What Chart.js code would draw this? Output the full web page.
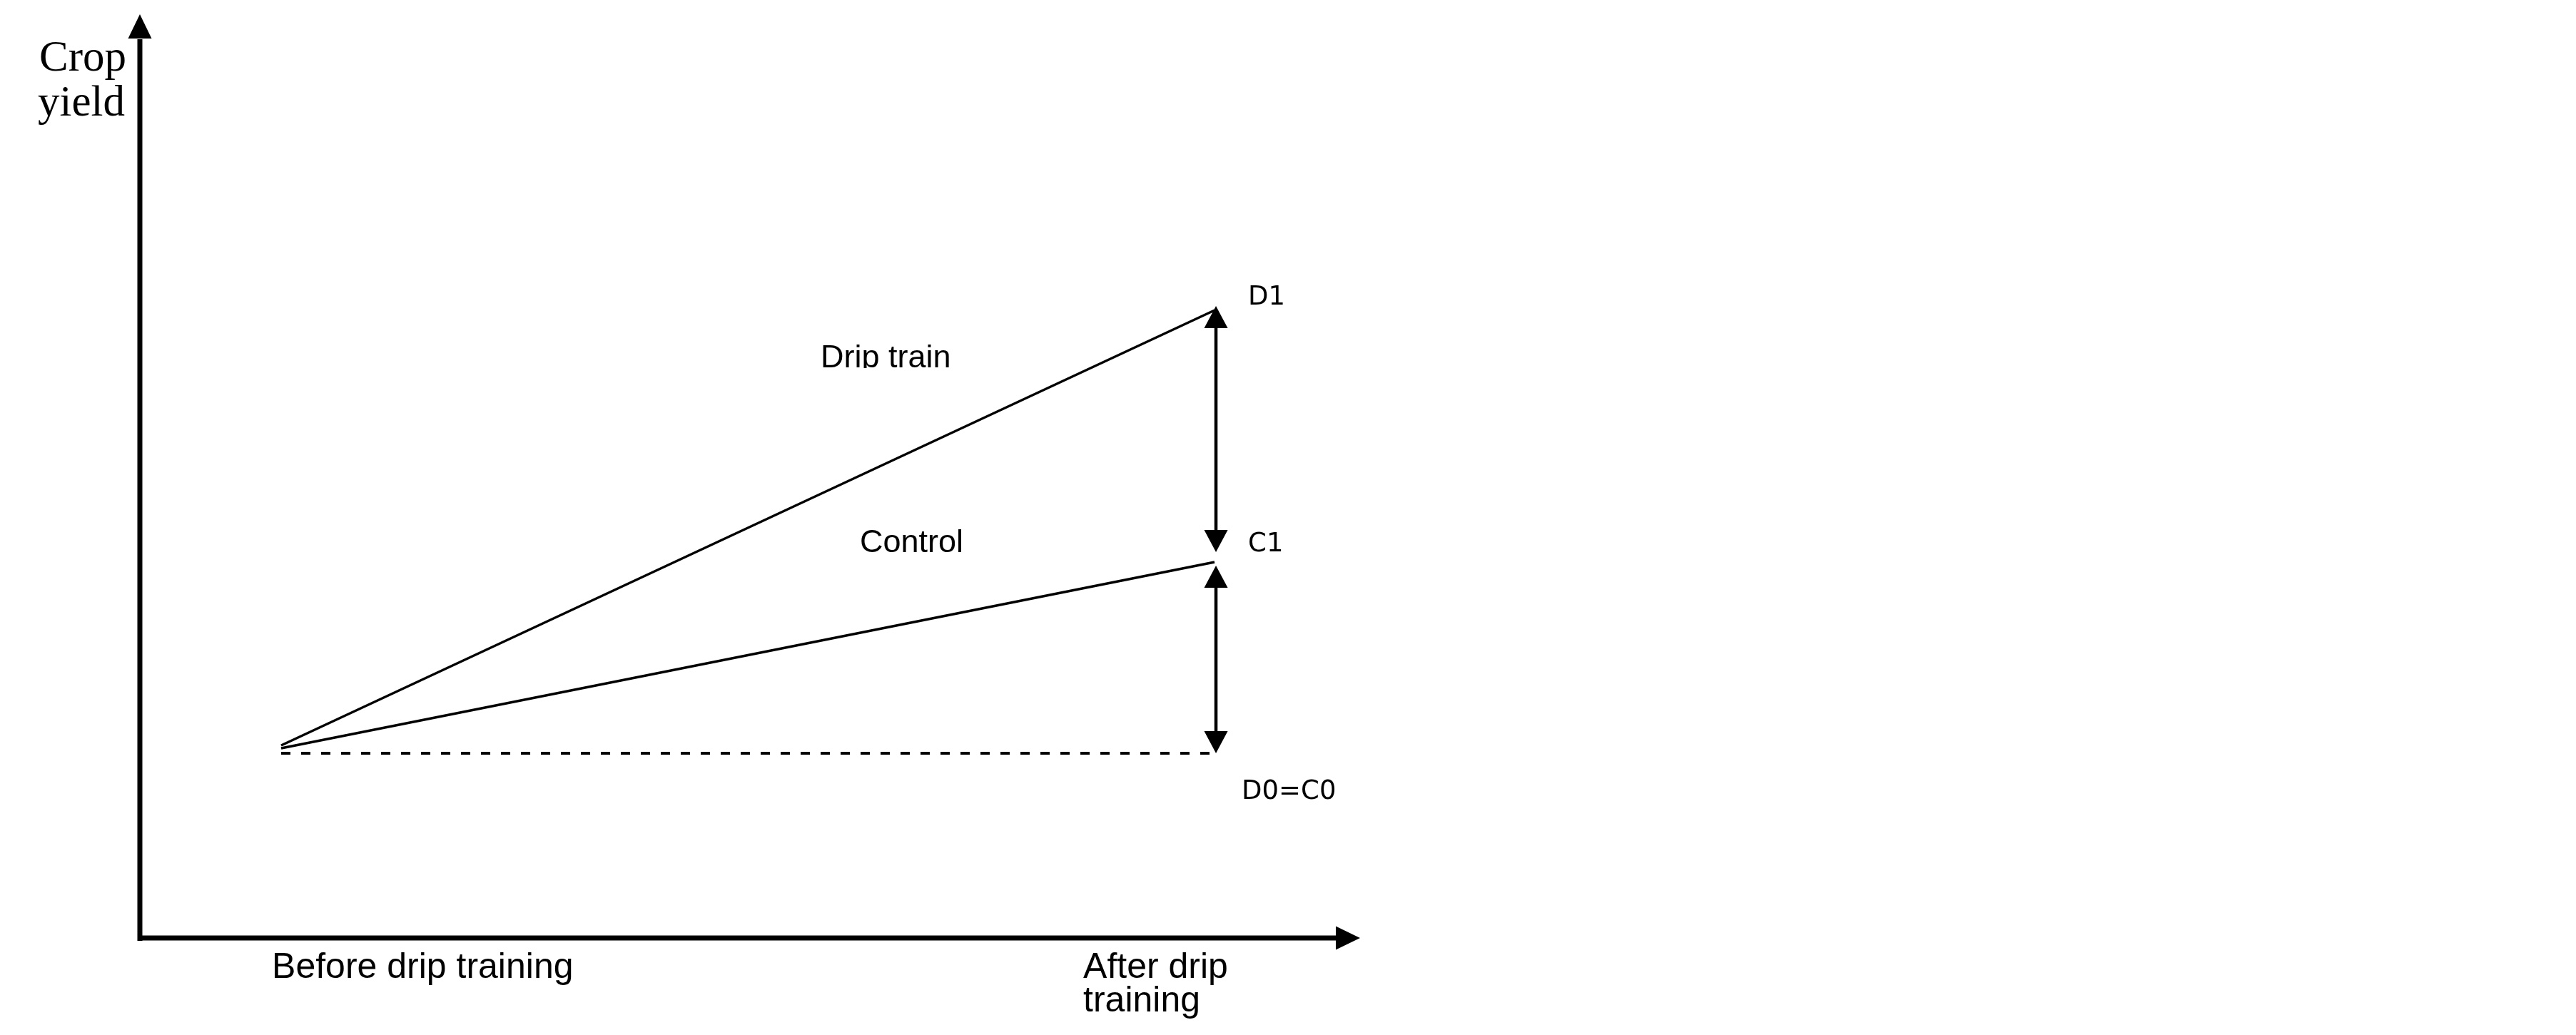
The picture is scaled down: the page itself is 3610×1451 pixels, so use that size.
<!DOCTYPE html>
<html>
<head>
<meta charset="utf-8">
<script src="https://cdn.jsdelivr.net/npm/chart.js@4.4.1/dist/chart.umd.min.js"></script>
<style>
  html, body { margin: 0; padding: 0; background: #ffffff; }
  #chart { display: block; }
</style>
</head>
<body>
<canvas id="chart" width="3610" height="1451"></canvas>
<script>
// data (schematic)
const stageX = [0, 1];
const stageLabels = [['Before drip training'], ['After drip', 'training']];
const dripTrain = [2.70, 8.80];
const control = [2.66, 5.27];
const baseline = [2.59, 2.59];
// double arrows at "after": D1 -> C1 and C1 -> D0=C0
const gapDrip = [8.86, 5.41];
const gapControl = [5.22, 2.59];

function toPoints(ys) {
  return stageX.map((x, i) => ({ x: x, y: ys[i] }));
}

function arrowHead(ctx, x, y, dir, w, h) {
  // dir: 'up' | 'down' | 'right'
  ctx.beginPath();
  if (dir === 'up') {
    ctx.moveTo(x, y); ctx.lineTo(x - w / 2, y + h); ctx.lineTo(x + w / 2, y + h);
  } else if (dir === 'down') {
    ctx.moveTo(x, y); ctx.lineTo(x - w / 2, y - h); ctx.lineTo(x + w / 2, y - h);
  } else {
    ctx.moveTo(x, y); ctx.lineTo(x - h, y - w / 2); ctx.lineTo(x - h, y + w / 2);
  }
  ctx.closePath();
  ctx.fill();
}

function doubleArrow(ctx, x, yTop, yBottom) {
  ctx.lineWidth = 4.5;
  ctx.beginPath();
  ctx.moveTo(x, yTop + 20);
  ctx.lineTo(x, yBottom - 20);
  ctx.stroke();
  arrowHead(ctx, x, yTop, 'up', 33, 31);
  arrowHead(ctx, x, yBottom, 'down', 33, 31);
}

const schemePlugin = {
  id: 'scheme',
  afterDatasetsDraw(chart) {
    const ctx = chart.ctx;
    const area = chart.chartArea;
    const xs = chart.scales.x;
    const ys = chart.scales.y;
    ctx.save();
    ctx.fillStyle = '#000';
    ctx.strokeStyle = '#000';

    // axes with arrows
    ctx.lineWidth = 7;
    ctx.beginPath();
    ctx.moveTo(area.left, area.bottom + 4);
    ctx.lineTo(area.left, area.top + 2);
    ctx.moveTo(area.left - 3, area.bottom);
    ctx.lineTo(area.right + 2, area.bottom);
    ctx.stroke();
    arrowHead(ctx, area.left, area.top - 33, 'up', 33, 34);
    arrowHead(ctx, area.right + 33, area.bottom, 'right', 33, 34);

    // gap arrows
    const xa = xs.getPixelForValue(stageX[1]) + 2;
    doubleArrow(ctx, xa, ys.getPixelForValue(gapDrip[0]), ys.getPixelForValue(gapDrip[1]));
    doubleArrow(ctx, xa, ys.getPixelForValue(gapControl[0]), ys.getPixelForValue(gapControl[1]));

    // point labels
    ctx.textAlign = 'left';
    ctx.textBaseline = 'alphabetic';
    ctx.font = '37px "DejaVu Sans"';
    ctx.fillText('D1', xa + 45, ys.getPixelForValue(dripTrain[1]) - 8);
    ctx.fillText('C1', xa + 45, ys.getPixelForValue(control[1]) - 15);
    ctx.fillText('D0=C0', xa + 36, ys.getPixelForValue(baseline[1]) + 64);

    // series labels
    ctx.font = '45px "Liberation Sans"';
    ctx.save();
    ctx.beginPath();
    ctx.rect(1100, 440, 300, 76);
    ctx.clip();
    ctx.fillText('Drip train', 1150, 515);
    ctx.restore();
    ctx.fillText('Control', 1205, 774);

    // x axis labels
    ctx.font = '50px "Liberation Sans"';
    const x0 = xs.getPixelForValue(stageX[0]);
    const x1 = xs.getPixelForValue(stageX[1]);
    stageLabels[0].forEach((t, i) => ctx.fillText(t, x0 - 13, area.bottom + 56 + i * 47));
    stageLabels[1].forEach((t, i) => ctx.fillText(t, x1 - 184, area.bottom + 56 + i * 47));

    // y axis title
    ctx.font = '61px "Liberation Serif"';
    ctx.fillText('Crop', 55, 99);
    ctx.fillText('yield', 53, 162);

    ctx.restore();
  }
};

const lineStyle = {
  borderColor: '#000',
  pointRadius: 0,
  fill: false,
  tension: 0
};

new Chart(document.getElementById('chart'), {
  type: 'line',
  data: {
    datasets: [
      Object.assign({ label: 'Drip train', data: toPoints(dripTrain), borderWidth: 3.5 }, lineStyle),
      Object.assign({ label: 'Control', data: toPoints(control), borderWidth: 3.5 }, lineStyle),
      Object.assign({ label: 'D0=C0', data: toPoints(baseline), borderWidth: 4, borderDash: [13, 15] }, lineStyle)
    ]
  },
  options: {
    responsive: false,
    devicePixelRatio: 1,
    animation: false,
    layout: { padding: { left: 196, top: 53, right: 1737, bottom: 136 } },
    plugins: {
      legend: { display: false },
      tooltip: { enabled: false }
    },
    scales: {
      x: { type: 'linear', display: false, min: -0.1514, max: 1.1307 },
      y: { type: 'linear', display: false, min: 0, max: 12.62 }
    }
  },
  plugins: [schemePlugin]
});
</script>
</body>
</html>
